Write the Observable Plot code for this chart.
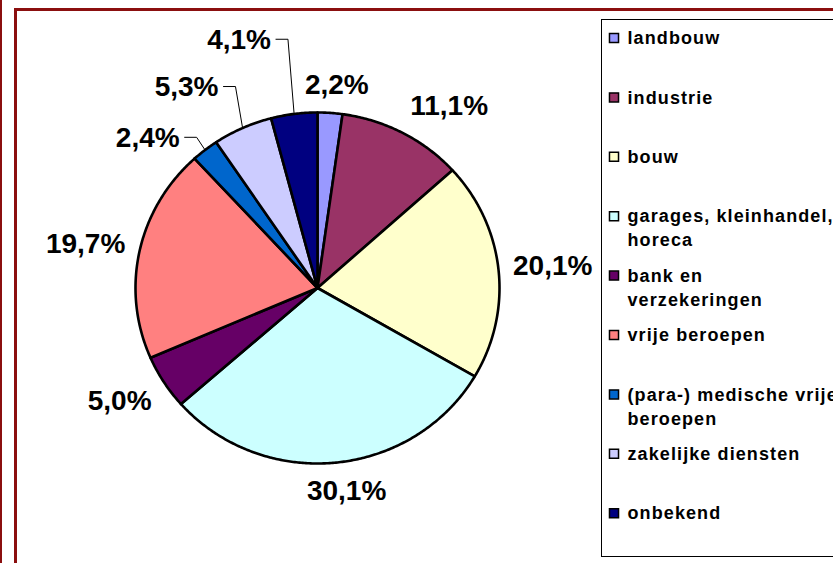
<!DOCTYPE html>
<html><head><meta charset="utf-8">
<script src="https://cdn.jsdelivr.net/npm/d3@7"></script>
<script src="https://cdn.jsdelivr.net/npm/@observablehq/plot@0.6"></script>
<style>
body{margin:0;background:#fff;}
#wrap{position:relative;width:833px;height:563px;overflow:hidden;background:#fff;}
#chart{position:absolute;left:0;top:0;}
.b{position:absolute;background:#8b0f0f;}
#legbox{position:absolute;left:601px;top:19px;width:260px;height:536px;border:1px solid #000;}
</style></head><body>
<div id="wrap">
<div id="chart"></div>
<div id="legbox"></div>
<div class="b" style="left:0;top:0;width:2px;height:563px"></div>
<div class="b" style="left:14px;top:8px;width:3px;height:555px"></div>
<div class="b" style="left:14px;top:8px;width:819px;height:3px"></div>
</div>
<script>
// ---- data ----
const categories = ["landbouw","industrie","bouw","garages, kleinhandel, horeca","bank en verzekeringen","vrije beroepen","(para-) medische vrije beroepen","zakelijke diensten","onbekend"];
const legendLines = [["landbouw"],["industrie"],["bouw"],["garages, kleinhandel,","horeca"],["bank en","verzekeringen"],["vrije beroepen"],["(para-) medische vrije","beroepen"],["zakelijke diensten"],["onbekend"]];
const values = [2.2, 11.1, 20.1, 30.1, 5.0, 19.7, 2.4, 5.3, 4.1];
const colors = ["#9999ff","#993366","#ffffcc","#ccffff","#660066","#ff8080","#0066cc","#ccccff","#000080"];

// ---- layout / style ----
const W = 833, H = 563;
const cx = 317, cy = 287.5, rx = 182, ry = 175.5;
const fs = 28;
// moved (leader-line) labels: [angle shift in degrees, radius factor]
const moved = {6: [-9.4, 1.264], 7: [-7.9, 1.35], 8: [-9.6, 1.476]};
const legendX = 613.5, legendTextX = 627, legendY0 = 38, legendStep = 59.4, legendLineH = 24;

const fmt = v => d3.format(".1f")(v).replace(".", ",") + "%";
const total = d3.sum(values);
const toX = px => (px - cx) / rx;
const toY = py => (cy - py) / ry;

let cum = 0;
const slices = values.map((v, i) => {
  const a0 = cum / total * 2 * Math.PI; cum += v;
  const a1 = cum / total * 2 * Math.PI;
  return {i, cat: categories[i], v, a0, a1, mid: (a0 + a1) / 2, color: colors[i], label: fmt(v)};
});

function slicePoints(s) {
  const pts = [{x: 0, y: 0}];
  const n = Math.max(2, Math.ceil((s.a1 - s.a0) / (Math.PI / 360)));
  for (let k = 0; k <= n; k++) {
    const a = s.a0 + (s.a1 - s.a0) * k / n;
    pts.push({x: Math.sin(a), y: Math.cos(a)});
  }
  pts.push({x: 0, y: 0});
  return pts;
}

const textW = s => { let w = 0; for (const c of s) w += c === "%" ? 0.889 : c === "," ? 0.278 : 0.556; return w * fs; };
const clamp = v => Math.max(-1, Math.min(1, v));

const labelData = slices.map(s => {
  const w = textW(s.label);
  let x, y;
  if (moved[s.i]) {
    const a = s.mid + moved[s.i][0] * Math.PI / 180;
    x = moved[s.i][1] * Math.sin(a); y = moved[s.i][1] * Math.cos(a);
  } else {
    const sn = Math.sin(s.mid), cs = Math.cos(s.mid);
    x = 1.08 * sn + clamp(2.6 * sn) * (w / 2) / rx;
    y = 1.08 * cs + clamp(1.5 * cs) * (fs / 2) / ry;
  }
  return {...s, x, y, w};
});

const leaders = [];
labelData.filter(d => moved[d.i]).forEach(d => {
  const px = cx + d.x * rx + d.w / 2 + 5, py = cy - d.y * ry - 1;
  leaders.push({id: d.i, x: toX(px), y: toY(py)});
  leaders.push({id: d.i, x: toX(px + 12), y: toY(py)});
  leaders.push({id: d.i, x: Math.sin(d.mid), y: Math.cos(d.mid)});
});

const legendRows = [];
legendLines.forEach((lines, i) => lines.forEach((t, j) => legendRows.push({
  i, text: t, x: toX(legendTextX), y: toY(legendY0 + i * legendStep + j * legendLineH)
})));
const legendSquares = categories.map((c, i) => ({i, x: toX(legendX), y: toY(legendY0 + i * legendStep - 0.5), color: colors[i]}));

const marks = [];
slices.forEach(s => marks.push(Plot.line(slicePoints(s), {x: "x", y: "y", fill: s.color, stroke: "#000", strokeWidth: 2.6, strokeLinejoin: "round"})));
marks.push(Plot.line(leaders, {x: "x", y: "y", z: "id", stroke: "#000", strokeWidth: 1}));
marks.push(Plot.text(labelData, {x: "x", y: "y", text: "label", fontSize: fs, fontWeight: "bold", fill: "#000", textAnchor: "middle", lineAnchor: "middle", fontFamily: "Liberation Sans, Arial, sans-serif"}));
marks.push(Plot.dot(legendSquares, {x: "x", y: "y", symbol: "square", r: 5.1, fill: "color", stroke: "#000", strokeWidth: 1.5}));
marks.push(Plot.text(legendRows, {x: "x", y: "y", text: "text", fontSize: 18, fontWeight: "bold", fill: "#000", textAnchor: "start", lineAnchor: "middle", fontFamily: "Liberation Sans, Arial, sans-serif"}));

const chart = Plot.plot({
  width: W, height: H,
  marginTop: 0, marginRight: 0, marginBottom: 0, marginLeft: 0,
  style: {background: "transparent", overflow: "visible"},
  x: {domain: [-1, 1], range: [cx - rx, cx + rx], axis: null},
  y: {domain: [-1, 1], range: [cy + ry, cy - ry], axis: null},
  color: {type: "identity"},
  marks
});
const texts = chart.querySelectorAll('g[aria-label="text"]');
if (texts.length) texts[texts.length - 1].style.letterSpacing = "1.1px";
document.getElementById("chart").appendChild(chart);
</script>
</body></html>
